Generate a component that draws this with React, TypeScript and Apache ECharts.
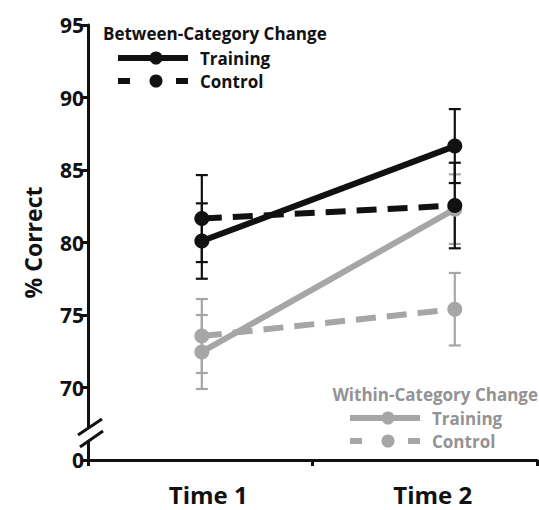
import React, { useEffect, useRef } from "react";
import * as echarts from "echarts";

const categories = ["Time 1", "Time 2"];
const timePoints = [1, 2];
const yTicks = [65, 70, 75, 80, 85, 90, 95];
const brokenTickLabel = "0";

const betweenTraining = [80.1, 86.65];
const betweenTrainingErr = [2.6, 2.55];
const betweenControl = [81.65, 82.55];
const betweenControlErr = [3.0, 2.95];
const withinTraining = [72.45, 82.3];
const withinTrainingErr = [2.55, 2.4];
const withinControl = [73.55, 75.4];
const withinControlErr = [2.55, 2.5];

const BLACK = "#111111";
const GRAY = "#a6a6a6";
const GRAY_TEXT = "#939393";
const FONT = "'Open Sans', 'Noto Sans', sans-serif";

const pts = (vals: number[]) => vals.map((v, i) => [timePoints[i], v]);
const errs = (vals: number[], e: number[]) =>
  vals.map((v, i) => [timePoints[i], v - e[i], v + e[i]]);

function errorSeries(name: string, data: number[][], color: string) {
  return {
    name,
    type: "custom",
    xAxisIndex: 1,
    z: 3,
    data,
    renderItem: (params: any, api: any) => {
      const x = api.value(0);
      const lo = api.coord([x, api.value(1)]);
      const hi = api.coord([x, api.value(2)]);
      const cw = 6;
      const style = { stroke: color, lineWidth: 2.2 };
      return {
        type: "group",
        children: [
          { type: "line", shape: { x1: lo[0], y1: lo[1], x2: hi[0], y2: hi[1] }, style },
          { type: "line", shape: { x1: lo[0] - cw, y1: lo[1], x2: lo[0] + cw, y2: lo[1] }, style },
          { type: "line", shape: { x1: hi[0] - cw, y1: hi[1], x2: hi[0] + cw, y2: hi[1] }, style },
        ],
      };
    },
  };
}

function lineSeries(name: string, data: number[][], color: string, dashed: boolean, z: number) {
  return {
    name,
    type: "line",
    xAxisIndex: 1,
    z,
    data,
    symbol: "circle",
    symbolSize: 15,
    itemStyle: { color },
    lineStyle: { color, width: 6, type: dashed ? [20, 11] : "solid" },
  };
}

function legendBlock(
  title: string,
  tx: number,
  ty: number,
  titleAlign: string,
  lx: number,
  ly: number,
  color: string,
  textColor: string
) {
  const w = 70;
  const mx = lx + 38;
  const gap = 23;
  const textStyle = (t: string, x: number, y: number, size: number, align: string) => ({
    type: "text",
    x,
    y,
    style: {
      text: t,
      fill: textColor,
      font: `bold ${size}px ${FONT}`,
      textVerticalAlign: "middle",
      textAlign: align,
    },
  });
  return [
    textStyle(title, tx, ty, 17, titleAlign),
    { type: "line", shape: { x1: lx, y1: ly, x2: lx + w, y2: ly }, style: { stroke: color, lineWidth: 6 } },
    { type: "circle", shape: { cx: mx, cy: ly, r: 6.5 }, style: { fill: color } },
    textStyle("Training", lx + 82, ly, 17, "left"),
    { type: "line", shape: { x1: lx, y1: ly + gap, x2: lx + 12, y2: ly + gap }, style: { stroke: color, lineWidth: 6 } },
    { type: "circle", shape: { cx: mx, cy: ly + gap, r: 6.5 }, style: { fill: color } },
    { type: "line", shape: { x1: lx + w - 12, y1: ly + gap, x2: lx + w, y2: ly + gap }, style: { stroke: color, lineWidth: 6 } },
    textStyle("Control", lx + 82, ly + gap, 17, "left"),
  ];
}

export default function App() {
  const ref = useRef<HTMLDivElement>(null);
  useEffect(() => {
    document.body.style.margin = "0";
    if (!ref.current) return;
    const chart = echarts.init(ref.current, null, { renderer: "svg" });
    chart.setOption({
      animation: false,
      backgroundColor: "#ffffff",
      grid: { left: 88, right: 2, top: 25, bottom: 50, containLabel: false },
      xAxis: [
        {
          type: "category",
          data: categories,
          boundaryGap: true,
          axisLine: { lineStyle: { color: BLACK, width: 3 } },
          axisTick: { show: true, length: 6, lineStyle: { color: BLACK, width: 3 } },
          axisLabel: {
            color: BLACK,
            fontFamily: FONT,
            fontWeight: "bold",
            fontSize: 24,
            margin: 22,
            padding: [0, 0, 0, 16],
          },
        },
        { type: "value", min: 0.55, max: 2.325, show: false },
      ],
      yAxis: {
        type: "value",
        min: yTicks[0],
        max: yTicks[yTicks.length - 1],
        interval: 5,
        name: "% Correct",
        nameLocation: "middle",
        nameGap: 44,
        nameTextStyle: { color: BLACK, fontFamily: FONT, fontWeight: "bold", fontSize: 23 },
        axisLine: { show: true, lineStyle: { color: BLACK, width: 3 } },
        axisTick: { show: true, length: 7, lineStyle: { color: BLACK, width: 3 } },
        splitLine: { show: false },
        axisLabel: {
          color: BLACK,
          fontFamily: FONT,
          fontWeight: "bold",
          fontSize: 21,
          margin: 4,
          formatter: (v: number) => (v === yTicks[0] ? brokenTickLabel : String(v)),
        },
      },
      series: [
        errorSeries("Within Training SE", errs(withinTraining, withinTrainingErr), GRAY),
        errorSeries("Within Control SE", errs(withinControl, withinControlErr), GRAY),
        lineSeries("Within Training", pts(withinTraining), GRAY, false, 4),
        lineSeries("Within Control", pts(withinControl), GRAY, true, 4),
        errorSeries("Between Training SE", errs(betweenTraining, betweenTrainingErr), BLACK),
        errorSeries("Between Control SE", errs(betweenControl, betweenControlErr), BLACK),
        lineSeries("Between Control", pts(betweenControl), BLACK, true, 6),
        lineSeries("Between Training", pts(betweenTraining), BLACK, false, 6),
      ],
      graphic: [
        {
          type: "polygon",
          z: 100,
          shape: { points: [[82, 432], [96, 423], [96, 435], [82, 444]] },
          style: { fill: "#ffffff" },
        },
        { type: "line", z: 101, shape: { x1: 78, y1: 435, x2: 102, y2: 419 }, style: { stroke: BLACK, lineWidth: 3 } },
        { type: "line", z: 101, shape: { x1: 80, y1: 447, x2: 103, y2: 431 }, style: { stroke: BLACK, lineWidth: 3 } },
        ...legendBlock("Between-Category Change", 103, 33, "left", 118, 58, BLACK, BLACK).map((g) => ({ ...g, z: 100 })),
        ...legendBlock("Within-Category Change", 538, 394, "right", 350, 418, GRAY, GRAY_TEXT).map((g) => ({ ...g, z: 100 })),
      ],
    });
    return () => chart.dispose();
  }, []);
  return <div ref={ref} style={{ width: 539, height: 510 }} />;
}
